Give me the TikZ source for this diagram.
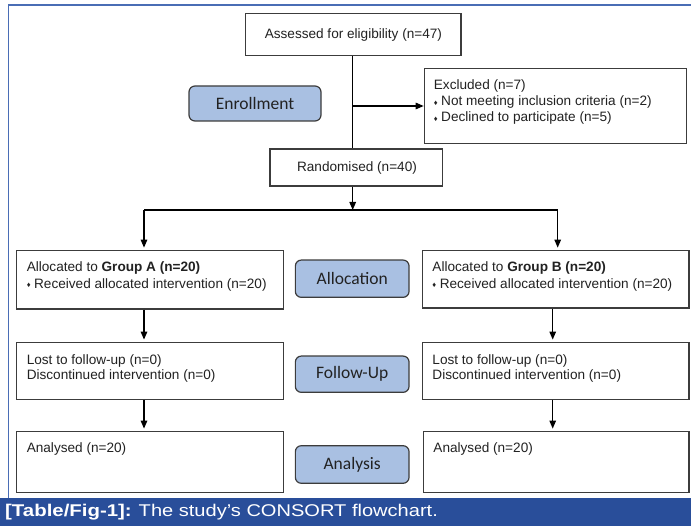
\documentclass[tikz,border=0pt]{standalone}
\usepackage{fontspec}
\setmainfont{Liberation Sans}
\newfontfamily\lblfont{Carlito}
\usetikzlibrary{arrows.meta,calc}
\definecolor{framebl}{HTML}{4A6DB5}
\definecolor{capbl}{HTML}{294E9A}
\definecolor{lblfill}{HTML}{A9C0E2}
\definecolor{boxln}{HTML}{3C3C3C}
\definecolor{txtc}{HTML}{222222}
\newcommand{\dmd}{{\fontsize{7.5}{7.5}\selectfont\raisebox{0.6pt}{♦}}\hspace{3.5pt}}
\tikzset{
  flowbox/.style={draw=boxln, line width=1.2pt, fill=white, rectangle, inner sep=0pt},
  phase/.style={draw=boxln, line width=1.2pt, fill=lblfill, rounded corners=6pt, inner sep=0pt,
    font=\lblfont\fontsize{17.5}{20}\selectfont, text=txtc},
  btxt/.style={font=\fontsize{13.6}{16.5}\selectfont, text=txtc, align=left, inner sep=0pt},
  conn/.style={draw=black, line width=1.3pt},
  arr/.style={conn, -{Triangle[length=8pt,width=6.5pt]}, shorten >=2.5pt},
}
\begin{document}
\begin{tikzpicture}[x=1pt,y=-1pt]
\useasboundingbox (0,0) rectangle (691,526);
% frame and caption band
\draw[framebl, line width=1.3pt] (691,5) -- (8.8,5) -- (8.8,498);
\fill[capbl] (0,497.7) rectangle (691,526);
\node[anchor=west, inner sep=0pt, text=white, font=\fontsize{17}{20}\selectfont] (cap) at (5,512.5)
  {\textbf{\scalebox{1.2}[1]{[Table/Fig-1]:}}\hspace{7pt}\scalebox{1.18}[1]{The study’s CONSORT flowchart.}};

% boxes
\node[flowbox, minimum width=215.3pt, minimum height=42.4pt] (assess) at (353.3,34.5) {};
\node[btxt] (assesst) at (353.4,34.5) {Assessed for eligibility (n=47)};

\node[flowbox, minimum width=262.4pt, minimum height=75.5pt] (excl) at (555.5,106) {};
\node[btxt, anchor=north west, font=\fontsize{13.6}{16}\selectfont] (exclt) at ($(excl.north west)+(10,12)$)
  {Excluded (n=7)\\ \dmd Not meeting inclusion criteria (n=2)\\ \dmd Declined to participate (n=5)};

\node[phase, minimum width=132pt, minimum height=35pt] (enroll) at (255,103.5) {Enrollment};

\node[flowbox, minimum width=172.7pt, minimum height=37pt] (rand) at (356.3,167.5) {};
\node[btxt] (randt) at (357,168) {Randomised (n=40)};

\coordinate (split) at (352.7,210);
\coordinate (leftc) at (144,210);
\coordinate (rightc) at (557.7,210);

\node[flowbox, minimum width=266.6pt, minimum height=58.3pt] (grpA) at (150,279.9) {};
\node[btxt, anchor=north west, font=\fontsize{13.6}{17}\selectfont] (grpAt) at ($(grpA.north west)+(10.5,11)$)
  {Allocated to \textbf{Group A (n=20)}\\ \dmd Received allocated intervention (n=20)};

\node[phase, minimum width=113.7pt, minimum height=37.3pt] (alloc) at (352.2,278.7) {Allocation};

\node[flowbox, minimum width=266.7pt, minimum height=57.3pt] (grpB) at (555.7,279.4) {};
\node[btxt, anchor=north west, font=\fontsize{13.6}{17}\selectfont] (grpBt) at ($(grpB.north west)+(10.5,11)$)
  {Allocated to \textbf{Group B (n=20)}\\ \dmd Received allocated intervention (n=20)};

\node[flowbox, minimum width=266.6pt, minimum height=56.6pt] (fuA) at (150,371) {};
\node[btxt, anchor=north west, font=\fontsize{13.6}{15.5}\selectfont] (fuAt) at ($(fuA.north west)+(10.5,12)$)
  {Lost to follow-up (n=0)\\ Discontinued intervention (n=0)};

\node[phase, minimum width=113.7pt, minimum height=36.3pt] (fulab) at (352.2,374.2) {Follow-Up};

\node[flowbox, minimum width=266.7pt, minimum height=56.6pt] (fuB) at (555.7,371) {};
\node[btxt, anchor=north west, font=\fontsize{13.6}{15.5}\selectfont] (fuBt) at ($(fuB.north west)+(10.5,12)$)
  {Lost to follow-up (n=0)\\ Discontinued intervention (n=0)};

\node[flowbox, minimum width=266.6pt, minimum height=60.6pt] (anA) at (150,462) {};
\node[btxt, anchor=north west] (anAt) at ($(anA.north west)+(10.5,11.5)$) {Analysed (n=20)};

\node[phase, minimum width=113.7pt, minimum height=37.6pt] (anlab) at (352.2,464.5) {Analysis};

\node[flowbox, minimum width=265.7pt, minimum height=60.6pt] (anB) at (556.2,462) {};
\node[btxt, anchor=north west] (anBt) at ($(anB.north west)+(10.5,11.5)$) {Analysed (n=20)};

% connectors
\draw[conn] (split |- assess.south) -- (split |- rand.north);
\draw[arr, shorten >=0pt] (split |- excl.west) -- (excl.west);
\draw[arr, shorten >=0pt] (split |- rand.south) -- (split);
\draw[conn] (leftc) -- (rightc);
\draw[arr] (leftc) -- (leftc |- grpA.north);
\draw[arr] (rightc) -- (rightc |- grpB.north);
\draw[arr] (leftc |- grpA.south) -- (leftc |- fuA.north);
\draw[arr] (552.7,0 |- grpB.south) -- (552.7,0 |- fuB.north);
\draw[arr] (leftc |- fuA.south) -- (leftc |- anA.north);
\draw[arr] (552.7,0 |- fuB.south) -- (552.7,0 |- anB.north);
\end{tikzpicture}
\end{document}
